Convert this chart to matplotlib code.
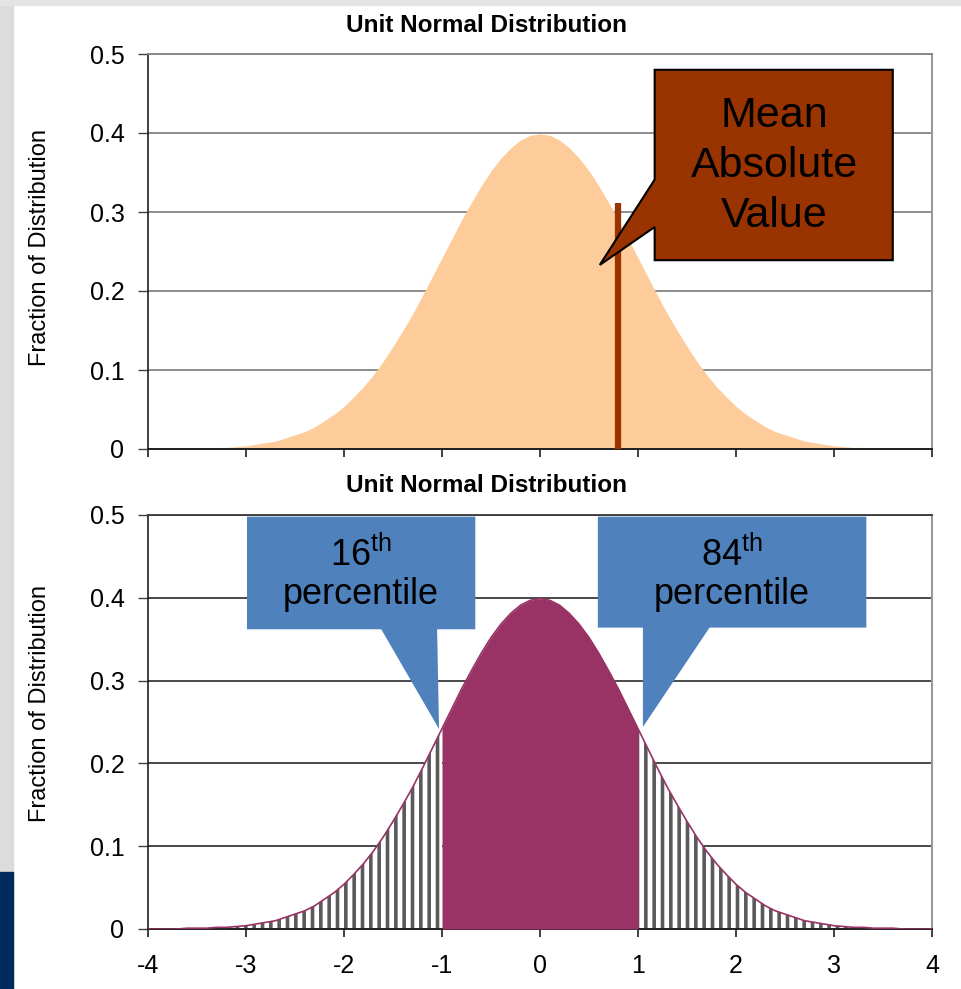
"""Unit normal distribution: mean absolute value and 16th/84th percentiles."""
import numpy as np
import matplotlib
matplotlib.use('Agg')
import matplotlib.pyplot as plt
from matplotlib.patches import Polygon, Rectangle

plt.rcParams['font.family'] = ['Liberation Sans', 'DejaVu Sans']
plt.rcParams['mathtext.fontset'] = 'custom'
plt.rcParams['mathtext.rm'] = 'Liberation Sans'
plt.rcParams['hatch.linewidth'] = 2.6
plt.rcParams['axes.unicode_minus'] = False

# Curve, x from -4 to 4 in steps of 0.1
density = [
    0.000, 0.000, 0.000, 0.000, 0.001, 0.001, 0.001, 0.002, 0.002, 0.003,
    0.004, 0.006, 0.008, 0.010, 0.014, 0.018, 0.022, 0.028, 0.036, 0.044,
    0.054, 0.066, 0.079, 0.094, 0.111, 0.130, 0.150, 0.171, 0.194, 0.218,
    0.242, 0.266, 0.290, 0.312, 0.333, 0.352, 0.368, 0.381, 0.391, 0.397,
    0.399,
    0.397, 0.391, 0.381, 0.368, 0.352, 0.333, 0.312, 0.290, 0.266, 0.242,
    0.218, 0.194, 0.171, 0.150, 0.130, 0.111, 0.094, 0.079, 0.066, 0.054,
    0.044, 0.036, 0.028, 0.022, 0.018, 0.014, 0.010, 0.008, 0.006, 0.004,
    0.003, 0.002, 0.002, 0.001, 0.001, 0.001, 0.000, 0.000, 0.000, 0.000,
]
x_min, x_max = -4, 4
mean_abs_x = 0.80
mean_abs_top = 0.312
pct_lo, pct_hi = -1.0, 1.0

y_ticks = [0, 0.1, 0.2, 0.3, 0.4, 0.5]
y_labels = ['0', '0.1', '0.2', '0.3', '0.4', '0.5']
x_ticks = [-4, -3, -2, -1, 0, 1, 2, 3, 4]

title = 'Unit Normal Distribution'
ylabel = 'Fraction of Distribution'

x = np.linspace(x_min, x_max, len(density))
y = np.array(density)

W, H = 961, 989
fig = plt.figure(figsize=(W / 100, H / 100), dpi=100)

# slide decoration at the left/top edges
fig.patches.append(Rectangle((0, 0), 13 / W, 1, transform=fig.transFigure,
                             color='#dcdcdc', zorder=0))
fig.patches.append(Rectangle((0, 1 - 5 / H), 1, 5 / H,
                             transform=fig.transFigure, color='#e4e4e4', zorder=0))
fig.patches.append(Rectangle((0, 0), 13 / W, (H - 872) / H,
                             transform=fig.transFigure, color='#002b5c', zorder=1))

ax1 = fig.add_axes([148 / W, 1 - 449 / H, 784 / W, 395 / H])
ax2 = fig.add_axes([148 / W, 1 - 929 / H, 784 / W, 414 / H])


def style_axes(ax, grid_colour, show_xlabels):
    ax.set_xlim(x_min, x_max)
    ax.set_ylim(0, 0.5)
    ax.set_yticks(y_ticks)
    ax.set_yticklabels(y_labels)
    ax.set_xticks(x_ticks)
    if not show_xlabels:
        ax.set_xticklabels([])
    ax.tick_params(axis='y', direction='out', length=7, width=1,
                   color='#404040', pad=10, labelsize=18)
    ax.tick_params(axis='x', direction='out', length=6, width=1.2,
                   color='#202020', pad=12, labelsize=18)
    ax.grid(axis='y', color=grid_colour, linewidth=1.3, zorder=0)
    ax.set_axisbelow(True)
    ax.spines['left'].set_color('#202020')
    ax.spines['left'].set_linewidth(1.2)
    ax.spines['bottom'].set_color('#202020')
    ax.spines['bottom'].set_linewidth(1.4)
    ax.spines['right'].set_color('#9a9a9a')
    ax.spines['right'].set_linewidth(1.5)
    ax.spines['top'].set_color(grid_colour)
    ax.spines['top'].set_linewidth(1.3)


# ---- top panel: mean absolute value
style_axes(ax1, '#858585', False)
ax1.fill_between(x, 0, y, color='#fecc9a', linewidth=0, zorder=2)
ax1.vlines(mean_abs_x, 0, mean_abs_top, color='#993300', linewidth=4.5, zorder=3)

call_top = Polygon([(1.17, 0.480), (3.60, 0.480), (3.60, 0.239), (1.17, 0.239),
                    (1.17, 0.281), (0.61, 0.233), (1.17, 0.341)],
                   closed=True, facecolor='#993300', edgecolor='black',
                   linewidth=1.5, zorder=5, clip_on=False)
ax1.add_patch(call_top)
ax1.text(2.39, 0.358, 'Mean\nAbsolute\nValue', ha='center', va='center',
         fontsize=31, linespacing=1.32, color='black', zorder=6)

# ---- bottom panel: 16th and 84th percentiles
style_axes(ax2, '#3a3a3a', True)
tail_l = x <= pct_lo + 1e-9
tail_r = x >= pct_hi - 1e-9
mid = (x >= pct_lo - 1e-9) & (x <= pct_hi + 1e-9)
for m in (tail_l, tail_r):
    ax2.fill_between(x[m], 0, y[m], facecolor='white', edgecolor='#5a5a5a',
                     hatch='||', linewidth=0, zorder=2)
ax2.fill_between(x[mid], 0, y[mid], color='#993366', linewidth=0, zorder=3)
ax2.plot(x, y, color='#993366', linewidth=1.2, zorder=4)

blue = '#4f81bd'
call_lo = Polygon([(-2.99, 0.498), (-0.66, 0.498), (-0.66, 0.362), (-1.05, 0.362),
                   (-1.03, 0.2415), (-1.62, 0.362), (-2.99, 0.362)],
                  closed=True, facecolor=blue, edgecolor='none', zorder=5)
call_hi = Polygon([(0.59, 0.498), (3.33, 0.498), (3.33, 0.364), (1.73, 0.364),
                   (1.05, 0.244), (1.05, 0.364), (0.59, 0.364)],
                  closed=True, facecolor=blue, edgecolor='none', zorder=5)
ax2.add_patch(call_lo)
ax2.add_patch(call_hi)
ax2.text(-1.83, 0.428, '16$^{\\rm th}$\npercentile', ha='center', va='center',
         fontsize=26, linespacing=1.12, color='black', zorder=6)
ax2.text(1.96, 0.428, '84$^{\\rm th}$\npercentile', ha='center', va='center',
         fontsize=26, linespacing=1.12, color='black', zorder=6)

# titles and y labels
fig.text(486 / W, 1 - 26 / H, title, ha='center', va='center',
         fontsize=17.5, fontweight='bold')
fig.text(486 / W, 1 - 485 / H, title, ha='center', va='center',
         fontsize=17.5, fontweight='bold')
fig.text(40 / W, 1 - 248 / H, ylabel, rotation=90, ha='center', va='center',
         fontsize=17)
fig.text(40 / W, 1 - 703 / H, ylabel, rotation=90, ha='center', va='center',
         fontsize=17)

fig.savefig('out.png', dpi=100)
